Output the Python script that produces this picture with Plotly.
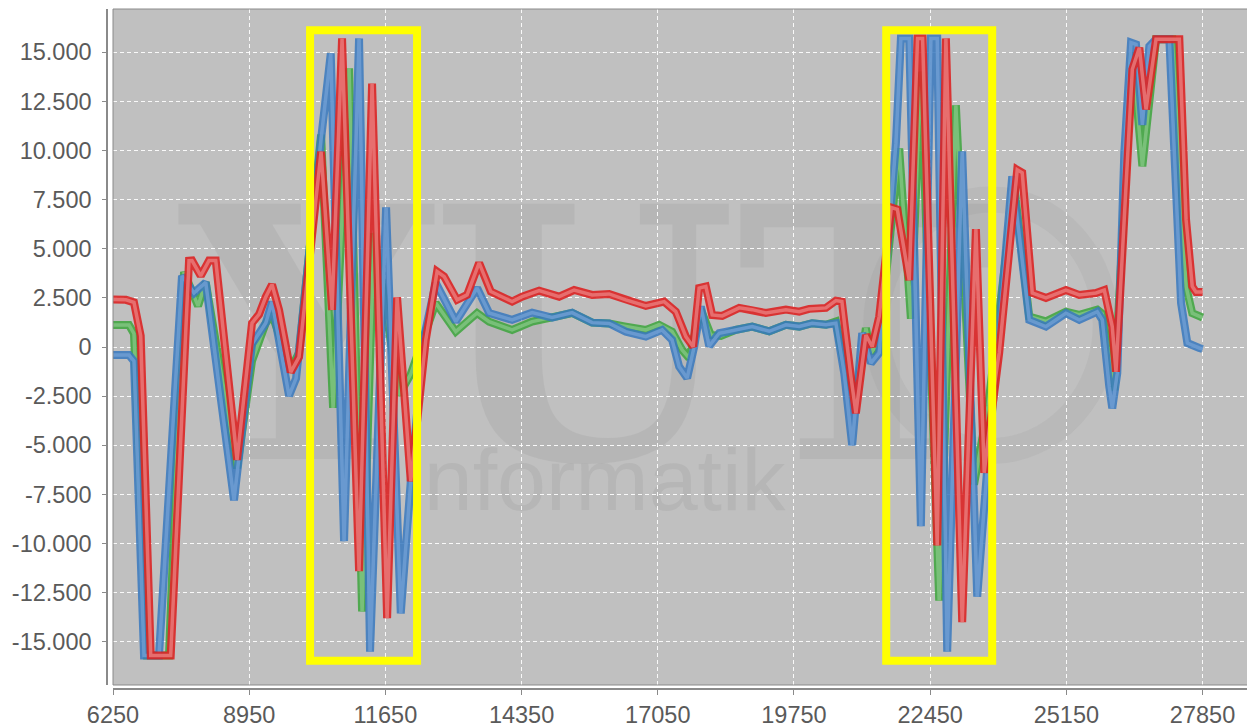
import plotly.graph_objects as go

# ---------------- data ----------------
red_x = [6250, 6508, 6666, 6799, 6998, 7394, 7757, 7817, 7989, 8154, 8287, 8709, 9006, 9145,
         9278, 9403, 9542, 9774, 9938, 10375, 10593, 10791, 11128, 11386, 11684, 11882, 12153,
         12451, 12675, 12814, 13072, 13270, 13508, 13740, 14162, 14360, 14698, 15094, 15392,
         15749, 16086, 16417, 16813, 17176, 17408, 17607, 17751, 17870, 18003, 18128, 18327,
         18664, 18922, 19193, 19590, 19854, 20052, 20383, 20581, 20700, 20870, 20978, 21176,
         21301, 21440, 21680, 21800, 22035, 22200, 22300, 22590, 22762, 23085, 23357, 23522,
         23720, 23819, 24176, 24275, 24474, 24745, 25142, 25406, 25737, 25902, 26060, 26134,
         26333, 26458, 26597, 26730, 26928, 27390, 27523, 27646, 27720, 27850]
red_y = [2420, 2400, 2270, 570, -15700, -15700, 4390, 4400, 3620, 4400, 4400, -5740, 1220, 1660,
         2550, 3180, 1890, -1280, -510, 9940, 1890, 15700, -11400, 13400, -13800, 2530, -6830,
         360, 3840, 3590, 2400, 2650, 4280, 2820, 2310, 2560, 2870, 2560, 2900,
         2650, 2700, 2400, 2090, 2310, 1800, 530, 15, 3000, 3080, 1630, 1580,
         1990, 1900, 1730, 1900, 1800, 1940, 1990, 2360, 2310, -1330, -3370, 610,
         15, 1550, 7100, 7000, 3400, 15700, 15700, -10100, 15700, -14000, 6000, -6400,
         -2000, -300, 9020, 8870, 2750, 2500, 2900, 2650, 2750, 2900, 1040, -1260,
         8180, 14130, 15230, 12090, 15660, 15660, 6480, 3080, 2800, 2800]

blue_x = [6250, 6567, 6666, 6865, 7162, 7618, 7856, 8088, 8649, 9006, 9278, 9403, 9740, 9879,
          10375, 10567, 10831, 11128, 11346, 11664, 11955, 12153, 12417, 12649, 13046, 13468,
          13706, 14162, 14559, 14955, 15352, 15749, 16086, 16417, 16813, 17137, 17335, 17474,
          17632, 17771, 17904, 18069, 18267, 18598, 18922, 19259, 19590, 19854, 20111, 20383,
          20581, 20746, 20904, 21103, 21275, 21440, 21771, 21870, 22035, 22266, 22465, 22590,
          22788, 23085, 23383, 23581, 24077, 24414, 24745, 25142, 25406, 25763, 25862, 26001,
          26060, 26160, 26299, 26432, 26531, 26657, 26795, 26928, 27192, 27424, 27549, 27785,
          27850]
blue_y = [-410, -410, -720, -15700, -15700, 3620, 2750, 3290, -7800, 150, 1220, 2300, -2480, -1600,
          10580, 14940, -9880, 15700, -15500, 7100, -13560, -6830, 500, 3260, 1290, 3000,
          1730, 1380, 1750, 1500, 1750, 1240, 1200, 780, 530, 870, 360, -1000,
          -1580, 0, 2060, 50, 700, 870, 1040, 800, 1130, 1040, 1210, 1130,
          1210, -1330, -5000, 710, -820, -300, 10360, 15700, 15700, -9120, 15700, 15700,
          -15500, 9950, -12700, -6200, 8690, 1380, 1040, 1720, 1380, 1800, 1380, -2020,
          -3120, -1330, 9890, 15490, 15400, 11300, 15300, 15660, 15660, 2240, 200, -50,
          -100]

green_x = [6250, 6567, 6666, 6924, 7360, 7658, 7936, 8088, 8709, 9006, 9278, 9403, 9774, 9938,
           10375, 10613, 10930, 11188, 11426, 11921, 12153, 12649, 13046, 13468, 13706, 14162,
           14559, 14955, 15352, 15749, 16086, 16417, 16813, 17077, 17335, 17533, 17672, 17904,
           18102, 18301, 18598, 18922, 19259, 19590, 19854, 20111, 20383, 20581, 20746, 20978,
           21176, 21275, 21440, 21836, 22068, 22266, 22629, 22960, 23320, 23600, 24117, 24414,
           24745, 25142, 25406, 25763, 25862, 26100, 26458, 26657, 26928, 27251, 27523, 27646,
           27850]
green_y = [1120, 1120, 680, -15700, -15700, 3820, 2090, 3300, -6170, -710, 1220, 1660, -1100, -300,
           10800, -3100, 14180, -13460, 5800, -2450, -1380, 2240, 780, 1730, 1290, 870,
           1290, 1500, 1730, 1240, 1200, 1040, 870, 1130, 780, -150, -560, 1900,
           610, 560, 870, 1040, 800, 1130, 1040, 1210, 1130, 1300, -800, -2700,
           970, -300, 300, 10100, 1440, 14000, -12900, 12300, -7000, -3000, 8180, 1550,
           1300, 1800, 1640, 1900, 1700, -2200, 14990, 9200, 15660, 15660, 3080, 1720,
           1500]

y_tick_vals = [-15000, -12500, -10000, -7500, -5000, -2500, 0, 2500, 5000, 7500, 10000, 12500, 15000]
y_tick_text = ["-15.000", "-12.500", "-10.000", "-7.500", "-5.000", "-2.500", "0",
               "2.500", "5.000", "7.500", "10.000", "12.500", "15.000"]
x_tick_vals = [6250, 8950, 11650, 14350, 17050, 19750, 22450, 25150, 27850]
x_tick_text = ["6250", "8950", "11650", "14350", "17050", "19750", "22450", "25150", "27850"]

highlight_x = [(10157, 12278), (21579, 23680)]
highlight_y = (-15963, 16116)

# ---------------- figure ----------------
fig = go.Figure()

series = [
    (green_x, green_y, "rgba(60,165,60,0.85)", "rgba(128,196,128,0.85)"),
    (blue_x, blue_y, "rgba(55,120,190,0.85)", "rgba(110,158,210,0.85)"),
    (red_x, red_y, "rgba(220,35,35,0.9)", "rgba(232,118,118,0.88)"),
]
for xs, ys, c_out, c_in in series:
    fig.add_trace(go.Scatter(x=xs, y=ys, mode="lines", line=dict(color=c_out, width=8),
                             showlegend=False, hoverinfo="skip"))
    fig.add_trace(go.Scatter(x=xs, y=ys, mode="lines", line=dict(color=c_in, width=3.5),
                             showlegend=False))

# watermark
fig.add_shape(type="rect", xref="paper", yref="paper", x0=0.09, x1=0.75, y0=0.34, y1=0.76,
              line=dict(width=0), fillcolor="rgba(0,0,0,0)", layer="below",
              label=dict(text="YUT", textposition="middle center",
                         font=dict(family="DejaVu Serif", size=350, weight="bold",
                                   color="rgba(150,150,150,0.23)")))
fig.add_shape(type="rect", xref="paper", yref="paper", x0=0.25, x1=0.60, y0=0.265, y1=0.375,
              line=dict(width=0), fillcolor="rgba(0,0,0,0)", layer="below",
              label=dict(text="informatik", textposition="middle center",
                         font=dict(family="Liberation Sans", size=88, color="rgba(150,150,150,0.24)")))
fig.add_shape(type="circle", xref="paper", yref="paper", x0=0.67, x1=0.87, y0=0.35, y1=0.72,
              line=dict(color="rgba(150,150,150,0.16)", width=26), fillcolor="rgba(0,0,0,0)",
              layer="below")

# plot outline
fig.add_shape(type="rect", xref="x domain", yref="y domain", x0=0, x1=1, y0=0, y1=1,
              line=dict(color="#8a8a8a", width=1), layer="above")

# yellow highlight boxes
for x0, x1 in highlight_x:
    fig.add_shape(type="rect", xref="x", yref="y", x0=x0, x1=x1, y0=highlight_y[0], y1=highlight_y[1],
                  line=dict(color="#ffff00", width=8), fillcolor="rgba(0,0,0,0)", layer="above")

tick_font = dict(family="Liberation Sans", size=23.5, color="#5a5a5a")

# the page body adds an 8px offset, so the figure is 8px smaller and margins shifted
fig.update_layout(
    width=1247, height=719,
    margin=dict(l=99, r=0, t=1, b=38, autoexpand=False),
    paper_bgcolor="white",
    plot_bgcolor="#c0c0c0",
    showlegend=False,
    xaxis=dict(
        domain=[6 / 1148, 1], anchor="free", position=0, automargin=False,
        range=[6250, 28890], tickvals=x_tick_vals, ticktext=x_tick_text,
        showgrid=True, gridcolor="rgba(255,255,255,0.9)", griddash="4px,3px", gridwidth=1,
        zeroline=False, showline=True, linecolor="#8a8a8a", linewidth=1.5,
        ticks="outside", ticklen=5, tickcolor="#8a8a8a", tickfont=tick_font,
    ),
    yaxis=dict(
        domain=[4 / 680, 1], anchor="free", position=0, automargin=False,
        range=[-17200, 17200], tickvals=y_tick_vals, ticktext=y_tick_text,
        showgrid=True, gridcolor="rgba(255,255,255,0.9)", griddash="4px,3px", gridwidth=1,
        zeroline=False, showline=True, linecolor="#8a8a8a", linewidth=1.5,
        ticks="outside", ticklen=4, tickcolor="#8a8a8a", tickfont=tick_font,
        ticklabelstandoff=6,
    ),
)

fig.write_html("out.html")
